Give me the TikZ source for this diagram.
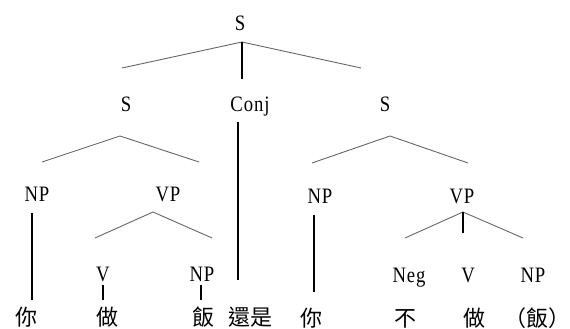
\documentclass[tikz,border=0pt]{standalone}
\usepackage{fontspec}
\newfontfamily\labfont[FakeStretch=0.85,LetterSpace=4]{Liberation Serif}
\newfontfamily\cjk{Noto Sans CJK TC}
\tikzset{
  cat/.style={inner sep=0pt,text height=14pt,text depth=0pt,
    font=\labfont\fontsize{22}{22}\selectfont},
  word/.style={inner sep=0pt,text height=17pt,text depth=0pt,
    font=\cjk\fontsize{22}{22}\selectfont},
  branch/.style={black!60,line width=0.9pt},
  stem/.style={black,line width=1.8pt},
}

\begin{document}
\begin{tikzpicture}[x=1pt,y=-1pt]
    \useasboundingbox (0,0) rectangle (570,329);
    % categories
    \node[cat] (s0) at (240,24) {S};
    \node[cat] (s1) at (126,104) {S};
    \node[cat] (conj) at (250,104) {Conj};
    \node[cat] (s2) at (385,104) {S};
    \node[cat] (np1) at (37,194) {NP};
    \node[cat] (vp1) at (168,194) {VP};
    \node[cat] (v1) at (103,274) {V};
    \node[cat] (np2) at (202,274) {NP};
    \node[cat] (np3) at (320,196) {NP};
    \node[cat] (vp2) at (462,196) {VP};
    \node[cat] (neg) at (409,275) {Neg};
    \node[cat] (v2) at (468,275) {V};
    \node[cat] (np4) at (533,275) {NP};
    % words
    \node[word] (w1) at (26,317) {你};
    \node[word] (w2) at (107,317) {做};
    \node[word] (w3) at (203,317) {飯};
    \node[word] (w4) at (250,317) {還是};
    \node[word] (w5) at (311,318) {你};
    \node[word] (w6) at (405,318) {不};
    \node[word] (w7) at (474,318) {做};
    \node[word] (w8) at (537,318) {（飯）};
    % branch points
    \coordinate (a0) at (242,42);
    \coordinate (a0l) at (122,68);
    \coordinate (a0r) at (361,68);
    \coordinate (a0m) at (242,79);
    \coordinate (a1) at (120,136);
    \coordinate (a1l) at (42,162);
    \coordinate (a1r) at (199,162);
    \coordinate (a2) at (153,212);
    \coordinate (a2l) at (95,238);
    \coordinate (a2r) at (212,238);
    \coordinate (a3) at (390,136);
    \coordinate (a3l) at (312,163);
    \coordinate (a3r) at (468,163);
    \coordinate (a4) at (463,212);
    \coordinate (a4l) at (405,238);
    \coordinate (a4r) at (523,238);
    \coordinate (a4m) at (463,233);
    % stems
    \coordinate (c1) at (238,122);
    \coordinate (c2) at (238,280);
    \coordinate (n1) at (32,213);
    \coordinate (n2) at (32,300);
    \coordinate (n3) at (314,215);
    \coordinate (n4) at (314,292);
    \coordinate (t1) at (103,285);
    \coordinate (t2) at (103,300);
    \coordinate (t3) at (201,285);
    \coordinate (t4) at (201,300);
    \draw[branch] (a0l) -- (a0) -- (a0r);
    \draw[branch] (a1l) -- (a1) -- (a1r);
    \draw[branch] (a2l) -- (a2) -- (a2r);
    \draw[branch] (a3l) -- (a3) -- (a3r);
    \draw[branch] (a4l) -- (a4) -- (a4r);
    \draw[stem] (a0) -- (a0m);
    \draw[stem] (a4) -- (a4m);
    \draw[stem] (c1) -- (c2);
    \draw[stem] (n1) -- (n2);
    \draw[stem] (n3) -- (n4);
    \draw[stem] (t1) -- (t2);
    \draw[stem] (t3) -- (t4);
\end{tikzpicture}
\end{document}
